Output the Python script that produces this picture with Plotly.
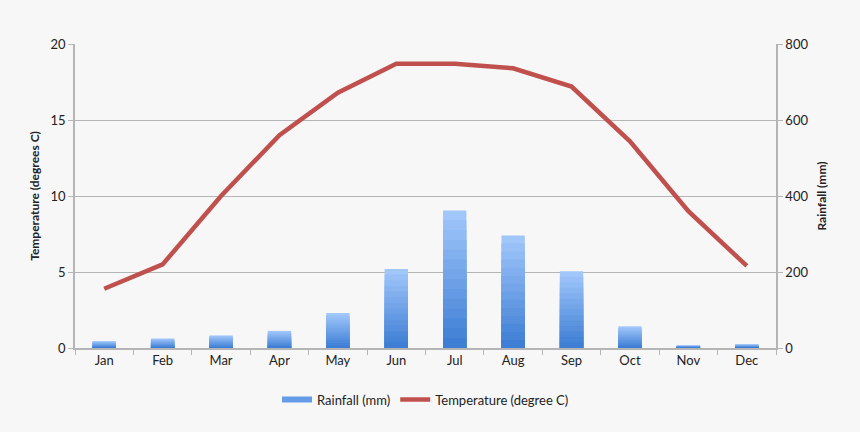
import plotly.graph_objects as go

months = ["Jan", "Feb", "Mar", "Apr", "May", "Jun", "Jul", "Aug", "Sep", "Oct", "Nov", "Dec"]
rainfall_mm = [18, 25, 33, 45, 92, 208, 362, 296, 202, 57, 7, 10]
temperature_c = [3.9, 5.5, 10.0, 14.0, 16.8, 18.7, 18.7, 18.4, 17.2, 13.6, 9.0, 5.4]

temp_ticks = [0, 5, 10, 15, 20]
rain_ticks = [0, 200, 400, 600, 800]

# vertical gradient for the bars (light top -> darker bottom), built as overlaid layers
top_rgb = (160, 198, 250)
bot_rgb = (62, 126, 212)
n_layers = 14


def mix(a, b, t):
    return "rgb(%d,%d,%d)" % tuple(round(a[i] + (b[i] - a[i]) * t) for i in range(3))


fig = go.Figure()
for k in range(n_layers):
    frac = 1 - k / n_layers
    fig.add_trace(go.Bar(
        x=months,
        y=[v * frac for v in rainfall_mm],
        name="Rainfall (mm)",
        marker=dict(color=mix(top_rgb, bot_rgb, k / (n_layers - 1)), line=dict(width=0)),
        showlegend=False,
        hoverinfo="skip" if k else None,
        yaxis="y",
    ))

# legend entry for the bars (wide flat swatch as in the original)
fig.add_trace(go.Scatter(
    x=[None], y=[None],
    name="Rainfall (mm)",
    mode="lines",
    line=dict(color="rgb(100,156,232)", width=6),
    legendrank=1,
    yaxis="y",
))

fig.add_trace(go.Scatter(
    x=months,
    y=temperature_c,
    name="Temperature (degree C)",
    mode="lines",
    line=dict(color="#c0504d", width=4.5),
    legendrank=2,
    yaxis="y2",
))

grid = "#b5b5b5"
font = "Lato, 'Open Sans', sans-serif"

fig.update_layout(
    width=860,
    height=432,
    paper_bgcolor="#f7f7f7",
    plot_bgcolor="#f7f7f7",
    margin=dict(l=75, r=84, t=44, b=84),
    barmode="overlay",
    bargap=0.6,
    font=dict(family=font, size=13, color="#222222"),
    xaxis=dict(
        type="category",
        showgrid=False,
        showline=True,
        linecolor=grid,
        linewidth=1.5,
        ticks="outside",
        tickson="boundaries",
        ticklen=5,
        tickcolor=grid,
        tickfont=dict(size=13),
    ),
    yaxis=dict(
        side="right",
        range=[0, 800],
        tickvals=rain_ticks,
        showgrid=True,
        gridcolor=grid,
        gridwidth=1.2,
        showline=True,
        linecolor=grid,
        linewidth=1.5,
        ticks="outside",
        ticklen=5,
        tickcolor=grid,
        zeroline=False,
        title=dict(text="<b>Rainfall (mm)</b>", font=dict(size=12), standoff=10),
    ),
    yaxis2=dict(
        side="left",
        overlaying="y",
        range=[0, 20],
        tickvals=temp_ticks,
        showgrid=False,
        showline=True,
        linecolor=grid,
        linewidth=1.5,
        ticks="outside",
        ticklen=5,
        tickcolor=grid,
        zeroline=False,
        title=dict(text="<b>Temperature (degrees C)</b>", font=dict(size=12), standoff=8),
    ),
    legend=dict(
        orientation="h",
        x=0.5,
        xanchor="center",
        y=-0.12,
        yanchor="top",
        font=dict(size=13),
        bgcolor="rgba(0,0,0,0)",
        tracegroupgap=0,
    ),
    hovermode="x",
)

fig.write_html(
    "out.html",
    config={"displayModeBar": False},
    post_script="document.body.style.margin='0';document.body.style.background='#f7f7f7';",
)
